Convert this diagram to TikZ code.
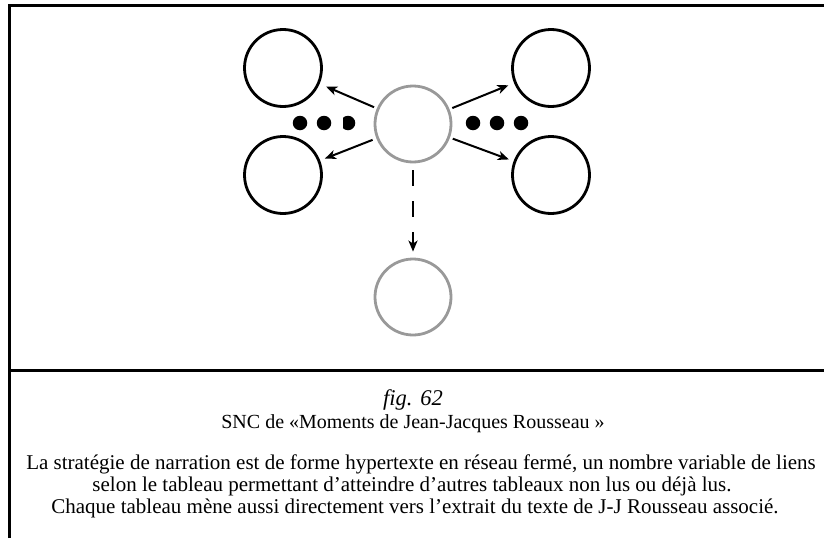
\documentclass[tikz,border=0pt]{standalone}
\usepackage{fontspec}
\setmainfont{Liberation Serif}
\usetikzlibrary{arrows.meta}
\begin{document}
\begin{tikzpicture}[x=1pt,y=-1pt,
  blk/.style={circle,draw=black,line width=2.8pt,minimum size=77pt,inner sep=0pt},
  gry/.style={circle,draw=black!40,line width=2.8pt,minimum size=76pt,inner sep=0pt},
  arr/.style={-{Stealth[length=11pt,width=9pt,inset=3pt]},line width=2pt},
  dotn/.style={circle,fill=black,minimum size=14.5pt,inner sep=0pt},
  frameline/.style={line width=3pt},
  txt/.style={font=\fontsize{21}{25}\selectfont,inner sep=0pt,anchor=base}]
\useasboundingbox (0,0) rectangle (824,538);
% frame
\draw[frameline] (9,538) -- (9,5) -- (824,5);
\draw[frameline] (9,370) -- (824,370);
% circles
\node[gry] (c) at (413,124) {};
\node[gry] (b) at (413,297) {};
\node[blk] (tl) at (283,68) {};
\node[blk] (bl) at (283,175) {};
\node[blk] (tr) at (551,68) {};
\node[blk] (br) at (551,175) {};
% arrows
\draw[arr,shorten <=3pt,shorten >=7pt] (c) -- (tl);
\draw[arr,shorten <=4pt,shorten >=5pt] (c) -- (bl);
\draw[arr,shorten <=3pt,shorten >=6pt] (c) -- (tr);
\draw[arr,shorten <=3pt,shorten >=5pt] (c) -- (br);
\draw[arr,line width=2.3pt,dash pattern=on 16pt off 15pt,shorten <=7pt,shorten >=6pt] (c.south) -- (b.north);
% dots
\node[dotn] (l1) at (300,123) {};
\node[dotn] (l2) at (324,123) {};
\begin{scope}
\clip (343,110) rectangle (360,136);
\node[dotn] (l3) at (348,123) {};
\end{scope}
\node[dotn] (r1) at (473,123) {};
\node[dotn] (r2) at (497,123) {};
\node[dotn] (r3) at (521,123) {};
% text
\node[txt,font=\fontsize{22.5}{25}\selectfont] (fig) at (413,405) {\itshape fig.\hspace{0.35em}62};
\node[txt,font=\fontsize{20}{24}\selectfont] (title) at (413,428) {SNC de «Moments de Jean-Jacques Rousseau »};
\node[txt] (p1) at (421,469.5) {La stratégie de narration est de forme hypertexte en réseau fermé, un nombre variable de liens};
\node[txt] (p2) at (412,491.5) {selon le tableau permettant d’atteindre d’autres tableaux non lus ou déjà lus.};
\node[txt] (p3) at (415,513.5) {Chaque tableau mène aussi directement vers l’extrait du texte de J-J Rousseau associé.};
\end{tikzpicture}
\end{document}
